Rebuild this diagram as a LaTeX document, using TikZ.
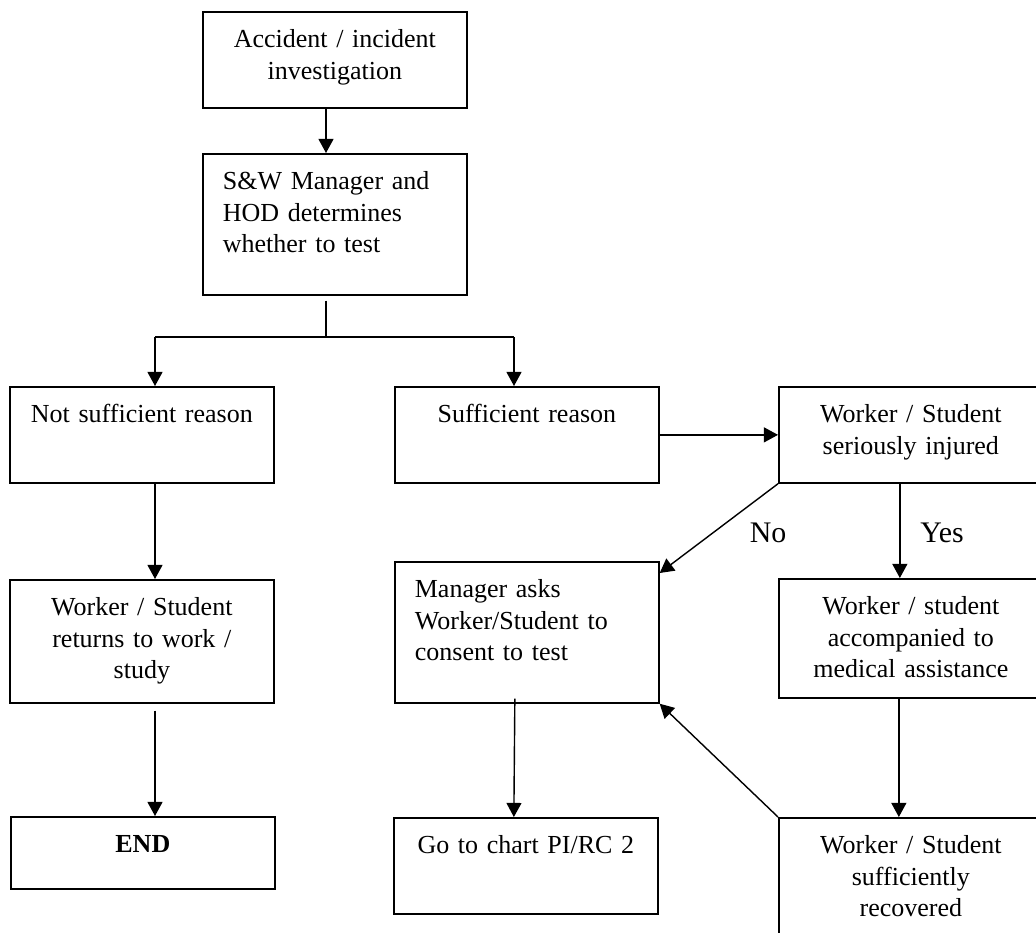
\documentclass[tikz,border=0pt]{standalone}
\usepackage{fontspec}
\setmainfont{Liberation Serif}
\usetikzlibrary{arrows.meta}

\tikzset{
	box/.style={draw, line width=1pt, anchor=north west, text width=4.48cm, inner xsep=0.4cm, inner ysep=0pt, text height=0.71cm, align=center, font=\fontsize{14.8}{18.1}\selectfont},
	arr/.style={line width=0.8pt, -{Triangle[length=8pt,width=8.5pt]}},
	answer/.style={font=\fontsize{17}{20}\selectfont}
}

\begin{document}
\begin{tikzpicture}[x=0.02cm, y=-0.02cm]
	\useasboundingbox (0,0) rectangle (1036,933);
	\clip (0,0) rectangle (1036,933);

	% Boxes
	\node[box, text depth=1.21cm] (b1) at (202,11) {Accident / incident\\ investigation};
	\node[box, text depth=2.11cm, align=left] (b2) at (202,153) {S\&W Manager and\\ HOD determines\\ whether to test};
	\node[box, text depth=1.21cm] (b3) at (9,386) {Not sufficient reason};
	\node[box, text depth=1.21cm] (b4) at (394,386) {Sufficient reason};
	\node[box, text depth=1.21cm] (b5) at (778,386) {Worker / Student\\ seriously injured};
	\node[box, text depth=1.75cm] (b6) at (9,579) {Worker / Student\\ returns to work /\\ study};
	\node[box, text depth=2.11cm, align=left] (b7) at (394,561) {Manager asks\\ Worker/Student to\\ consent to test};
	\node[box, text depth=1.67cm] (b8) at (778,578) {Worker / student\\ accompanied to\\ medical assistance};
	\node[box, text depth=0.73cm] (b9) at (10,816) {\textbf{END}};
	\node[box, text depth=1.21cm] (b10) at (393,817) {Go to chart PI/RC 2};
	\node[box, text depth=1.85cm] (b11) at (778,817) {Worker / Student\\ sufficiently\\ recovered};

	% Split
	\coordinate (fork) at (326,337);
	\coordinate (forkl) at (155,337);
	\coordinate (forkr) at (514,337);
	\draw[arr] (b1.south -| fork) -- (b2.north -| fork);
	\draw[line width=0.8pt] (b2.south -| fork) ++(0,5) -- (fork);
	\draw[line width=0.8pt] (forkl) -- (forkr);
	\draw[arr] (forkl) -- (forkl |- b3.north);
	\draw[arr] (forkr) -- (forkr |- b4.north);

	% Left column
	\draw[arr] (b3.south -| forkl) -- (b6.north -| forkl);
	\draw[arr] (b6.south -| forkl) ++(0,7) -- (b9.north -| forkl);

	% Right part
	\draw[arr] (b4.east) -- (b5.west);
	\draw[arr] (b5.south west) -- ([yshift=-0.24cm]b7.north east);
	\draw[arr] ([xshift=-0.22cm]b5.south) -- ([xshift=-0.22cm]b5.south |- b8.north);
	\draw[arr] ([xshift=-0.24cm]b8.south) -- ([xshift=-0.24cm]b8.south |- b11.north);
	\draw[arr] ([shift={(-0.24cm,0.1cm)}]b7.south) -- ([xshift=-0.24cm]b10.north);
	\draw[arr] (b11.north west) -- (b7.south east);
	\node[answer] (no) at (768,533) {No};
	\node[answer] (yes) at (942,533) {Yes};
\end{tikzpicture}
\end{document}
